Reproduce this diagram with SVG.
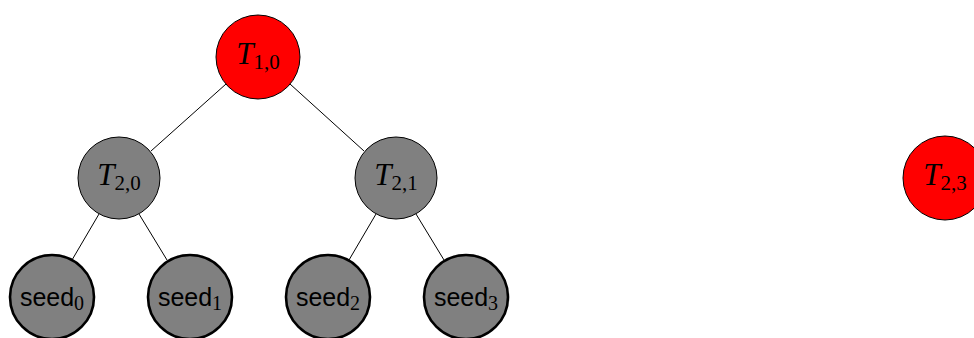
<svg xmlns="http://www.w3.org/2000/svg" width="974" height="338" viewBox="0 0 974 338">
  <style>
    .edge { stroke: #000; stroke-width: 1; fill: none; }
    .red { fill: #ff0000; stroke: #000; stroke-width: 1; }
    .grey { fill: #808080; stroke: #000; stroke-width: 1; }
    .seed { fill: #808080; stroke: #000; stroke-width: 2.6; }
    .tl { font-family: "Liberation Serif", "DejaVu Serif", serif; font-size: 31px; fill: #000; }
    .tl .v { font-style: italic; }
    .tl .s { font-size: 21px; }
    .sl { font-family: "Liberation Sans", "DejaVu Sans", sans-serif; font-size: 25px; fill: #000; }
    .sl .s { font-family: "Liberation Serif", "DejaVu Serif", serif; font-size: 20px; }
  </style>

  <g id="connectors">
    <line class="edge" x1="226" y1="84" x2="151" y2="151"/>
    <line class="edge" x1="290" y1="84" x2="364" y2="151"/>
    <line class="edge" x1="99" y1="214" x2="72" y2="260"/>
    <line class="edge" x1="139" y1="214" x2="167" y2="260"/>
    <line class="edge" x1="376" y1="214" x2="349" y2="260"/>
    <line class="edge" x1="416" y1="214" x2="444" y2="260"/>
  </g>

  <g id="T10">
    <circle class="red" cx="258" cy="57" r="42"/>
    <text class="tl" x="258" y="64" text-anchor="middle"><tspan class="v">T</tspan><tspan class="s" dy="5">1,0</tspan></text>
  </g>
  <g id="T20">
    <circle class="grey" cx="119" cy="178" r="41"/>
    <text class="tl" x="119" y="185" text-anchor="middle"><tspan class="v">T</tspan><tspan class="s" dy="5">2,0</tspan></text>
  </g>
  <g id="T21">
    <circle class="grey" cx="396" cy="178" r="41"/>
    <text class="tl" x="396" y="185" text-anchor="middle"><tspan class="v">T</tspan><tspan class="s" dy="5">2,1</tspan></text>
  </g>
  <g id="T23">
    <circle class="red" cx="945" cy="178" r="42"/>
    <text class="tl" x="945" y="185" text-anchor="middle"><tspan class="v">T</tspan><tspan class="s" dy="5">2,3</tspan></text>
  </g>

  <g id="seed0">
    <circle class="seed" cx="52" cy="297" r="42"/>
    <text class="sl" x="52" y="306" text-anchor="middle">seed<tspan class="s" dy="4">0</tspan></text>
  </g>
  <g id="seed1">
    <circle class="seed" cx="190" cy="297" r="42"/>
    <text class="sl" x="190" y="306" text-anchor="middle">seed<tspan class="s" dy="4">1</tspan></text>
  </g>
  <g id="seed2">
    <circle class="seed" cx="328" cy="297" r="42"/>
    <text class="sl" x="328" y="306" text-anchor="middle">seed<tspan class="s" dy="4">2</tspan></text>
  </g>
  <g id="seed3">
    <circle class="seed" cx="466" cy="297" r="42"/>
    <text class="sl" x="466" y="306" text-anchor="middle">seed<tspan class="s" dy="4">3</tspan></text>
  </g>
</svg>
